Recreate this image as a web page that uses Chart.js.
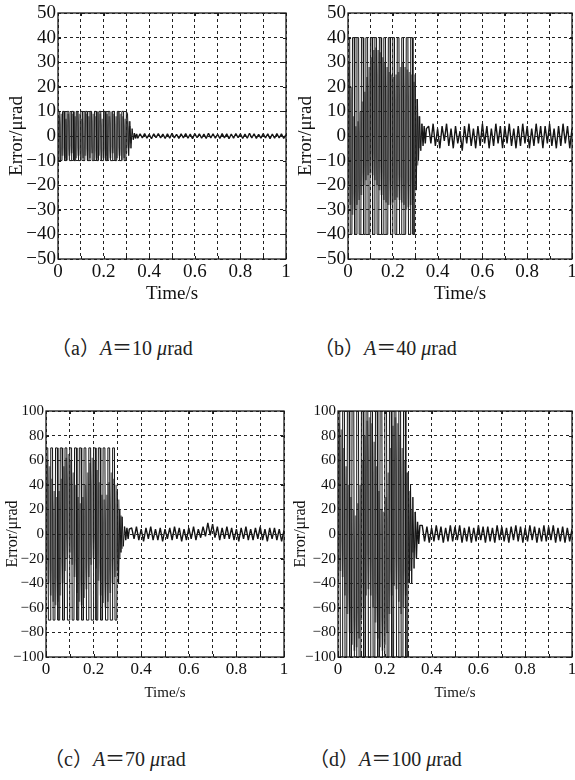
<!DOCTYPE html>
<html>
<head>
<meta charset="utf-8">
<script src="https://cdn.jsdelivr.net/npm/chart.js@4.4.0/dist/chart.umd.min.js"></script>
<style>
  html, body { margin: 0; padding: 0; background: #fff; }
  body { width: 575px; height: 780px; position: relative; overflow: hidden; }
  canvas { position: absolute; }
  .cap { position: absolute; font-family: "Liberation Serif", "Noto Sans CJK SC", serif; font-size: 20px; line-height: 24px; color: #222; white-space: nowrap; }
  .cap i { font-style: italic; }
</style>
</head>
<body>
<canvas id="chartA" width="290" height="310" style="left:0;top:0"></canvas>
<canvas id="chartB" width="285" height="310" style="left:290px;top:0"></canvas>
<canvas id="chartC" width="290" height="310" style="left:0;top:395px"></canvas>
<canvas id="chartD" width="285" height="310" style="left:290px;top:395px"></canvas>

<div class="cap" style="left:51px;top:336px">（a）<i>A</i>＝10 <i>μ</i>rad</div>
<div class="cap" style="left:314px;top:336px">（b）<i>A</i>＝40 <i>μ</i>rad</div>
<div class="cap" style="left:44px;top:747px">（c）<i>A</i>＝70 <i>μ</i>rad</div>
<div class="cap" style="left:309px;top:747px">（d）<i>A</i>＝100 <i>μ</i>rad</div>

<script>
// time samples (s) of the saturated black trace, 0 - 0.35
const tBlack = [0,0.0075,0.01,0.0175, 0.02,0.0275,0.03,0.0375, 0.04,0.0475,0.05,0.0575,
  0.06,0.0675,0.07,0.0775, 0.08,0.0875,0.09,0.0975, 0.1,0.1075,0.11,0.1175,
  0.12,0.1275,0.13,0.1375, 0.14,0.1475,0.15,0.1575, 0.16,0.1675,0.17,0.1775,
  0.18,0.1875,0.19,0.1975, 0.2,0.2075,0.21,0.2175, 0.22,0.2275,0.23,0.2375,
  0.24,0.2475,0.25,0.2575, 0.26,0.2675,0.27,0.2775, 0.28,0.2875,0.29,0.2975,
  0.3,0.305,0.31,0.315,0.32,0.325,0.33,0.335,0.34,0.345,0.35];
// time samples of the grey trace, 0 - 0.32
const tGray = [0,0.005,0.01,0.015,0.02,0.025,0.03,0.035,0.04,0.045,
  0.05,0.055,0.06,0.065,0.07,0.075,0.08,0.085,0.09,0.095,
  0.1,0.105,0.11,0.115,0.12,0.125,0.13,0.135,0.14,0.145,
  0.15,0.155,0.16,0.165,0.17,0.175,0.18,0.185,0.19,0.195,
  0.2,0.205,0.21,0.215,0.22,0.225,0.23,0.235,0.24,0.245,
  0.25,0.255,0.26,0.265,0.27,0.275,0.28,0.285,0.29,0.295,
  0.3,0.305,0.31,0.315,0.32];
// steady-state samples, 0.36 - 1
const tSlow = [0.36,0.37,0.38,0.39,0.4,0.41,0.42,0.43,0.44,0.45,
  0.46,0.47,0.48,0.49,0.5,0.51,0.52,0.53,0.54,0.55,
  0.56,0.57,0.58,0.59,0.6,0.61,0.62,0.63,0.64,0.65,
  0.66,0.67,0.68,0.69,0.7,0.71,0.72,0.73,0.74,0.75,
  0.76,0.77,0.78,0.79,0.8,0.81,0.82,0.83,0.84,0.85,
  0.86,0.87,0.88,0.89,0.9,0.91,0.92,0.93,0.94,0.95,
  0.96,0.97,0.98,0.99,1];

// (a) A = 10 urad
const aHead = [10,10,-10,-10, 10,10,-10,-10, 10,10,-10,-10, 10,10,-10,-10, 10,10,-10,-10,
  10,10,-10,-10, 10,10,-10,-10, 10,10,-10,-10, 10,10,-10,-10, 10,10,-10,-10,
  10,10,-10,-10, 10,10,-10,-10, 10,10,-10,-10, 10,10,-10,-10, 10,10,-10,-10,
  10,9,-8,6,-5,3,-1.5,1.2,-1,0.8,-0.9];
const aGray = [-9,8,-10,9,-8,10,-9,7,-10,9,-8,10,-7,9,-10,8,-9,10,-8,9,
  -10,7,-9,10,-8,9,-10,8,-9,10,-7,9,-10,8,-9,10,-8,9,-10,7,
  -9,10,-8,9,-10,8,-9,10,-7,9,-10,8,-9,10,-8,9,-10,8,-9,7,
  -7,6,-5,4,-3];
const aTail = [0.9,-0.8,1.0,-0.9,0.7,-1.1,0.9,-0.7,1.0,-0.8,
  0.8,-1.0,0.9,-0.9,1.1,-0.8,0.7,-1.0,0.9,-0.8,
  1.0,-0.9,0.8,-1.1,1.0,-0.7,0.9,-0.9,0.8,-1.0,
  1.1,-0.8,0.9,-0.9,0.7,-1.0,1.0,-0.8,0.9,-1.1,
  0.8,-0.9,1.0,-0.7,0.9,-1.0,0.8,-0.9,1.1,-0.8,
  0.9,-1.0,0.7,-0.9,1.0,-0.8,0.9,-1.1,0.8,-0.9,
  1.0,-0.8,0.9,-1.0,0.6];

// (b) A = 40 urad
const bHead = [40,40,-40,-40, 40,40,-40,-40, 40,40,-40,-40, 40,40,-40,-40, 40,40,-40,-40,
  40,40,-40,-40, 40,40,-40,-40, 40,40,-40,-40, 40,40,-40,-40, 40,40,-40,-40,
  40,40,-40,-40, 40,40,-40,-40, 40,40,-40,-40, 40,40,-40,-40, 40,40,-40,-40,
  25,-22,15,-10,8,-6,5,-4,4,-3,3];
const bGray = [-20,30,-28,20,-32,8,-30,4,-28,6,
  -26,10,-24,14,-20,18,-18,24,-16,28,
  -15,32,-16,35,-18,36,-20,35,-22,34,
  -24,32,-26,30,-27,28,-28,26,-28,25,
  -27,24,-26,25,-25,26,-26,28,-27,30,
  -28,28,-30,27,-29,26,-28,25,-26,22,
  -22,15,-12,8,-5];
const bTail = [4,-3,5,-4,3,-5,4,-2,5,-4,
  3,-5,4,-3,2,-6,4,-3,5,-4,
  3,-5,4,-4,5,-3,4,-5,3,-4,
  5,-3,4,-5,4,-3,5,-4,3,-5,
  4,-4,5,-3,4,-5,3,-4,5,-3,
  4,-5,4,-3,5,-4,3,-5,4,-4,
  5,-3,4,-5,3];

// (c) A = 70 urad
const cHead = [70,70,-70,-70, 70,70,-70,-70, 70,70,-70,-70, 70,70,-70,-70, 70,70,-70,-70,
  70,70,-70,-70, 70,70,-70,-70, 70,70,-70,-70, 70,70,-70,-70, 70,70,-70,-70,
  70,70,-70,-70, 70,70,-70,-70, 70,70,-70,-70, 70,70,-70,-70, 70,70,-70,-70,
  35,-40,20,-15,14,-10,6,-5,5,-4,4];
const cGray = [-30,60,-40,55,-50,45,-55,35,-58,30,
  -55,35,-50,45,-40,55,-30,62,-20,65,
  -15,60,-25,50,-35,40,-48,30,-55,25,
  -58,30,-52,40,-45,50,-35,58,-25,62,
  -20,60,-28,52,-38,42,-50,32,-56,28,
  -60,32,-55,42,-48,50,-40,45,-35,40,
  -30,28,-20,15,-12];
const cTail = [5,-4,6,-5,4,-6,5,-4,6,-5,
  4,-5,5,-6,4,-4,5,-5,6,-4,
  5,-6,4,-5,5,-4,6,-5,4,-3,
  6,-2,9,-1,8,-3,6,-5,5,-4,
  6,-4,5,-5,4,-6,5,-4,6,-5,
  4,-5,5,-4,6,-5,4,-6,5,-4,
  5,-5,4,-6,3];

// (d) A = 100 urad
const dHead = [100,100,-100,-100, 100,100,-100,-100, 100,100,-100,-100, 100,100,-100,-100, 100,100,-100,-100,
  100,100,-100,-100, 100,100,-100,-100, 100,100,-100,-100, 100,100,-100,-100, 100,100,-100,-100,
  100,100,-100,-100, 100,100,-100,-100, 100,100,-100,-100, 100,100,-100,-100, 100,100,-100,-100,
  50,-40,40,-40,30,-28,18,-20,10,-8,7];
const dGray = [-40,90,-30,85,-35,70,-50,55,-65,40,
  -80,30,-90,20,-95,15,-92,25,-85,40,
  -70,60,-60,80,-50,92,-45,95,-50,90,
  -60,75,-72,55,-85,35,-92,20,-95,18,
  -90,30,-80,50,-65,70,-50,88,-42,95,
  -45,90,-55,80,-65,70,-60,60,-50,50,
  -40,35,-30,20,-15];
const dTail = [7,-6,6,-7,5,-6,7,-5,6,-7,
  5,-6,7,-6,6,-5,7,-7,5,-6,
  6,-7,5,-6,7,-5,6,-7,6,-6,
  5,-7,7,-5,6,-6,5,-7,6,-5,
  7,-6,6,-7,5,-6,7,-5,6,-7,
  5,-6,7,-6,6,-5,7,-7,5,-6,
  6,-7,5,-6,4];

Chart.defaults.font.family = '"Liberation Serif", "Times New Roman", serif';
Chart.defaults.color = '#111';

function pts(ts, ys) {
  return ys.map((y, i) => ({ x: ts[i], y: y }));
}

// solid box round the plot + short inward ticks, like the matlab axes
const framePlugin = {
  id: 'frame',
  afterDraw(chart) {
    const { ctx, chartArea: a, scales } = chart;
    ctx.save();
    ctx.strokeStyle = '#1a1a1a';
    ctx.lineWidth = 1;
    ctx.beginPath();
    scales.x.ticks.forEach(t => {
      const px = Math.round(scales.x.getPixelForValue(t.value)) + 0.5;
      ctx.moveTo(px, a.bottom); ctx.lineTo(px, a.bottom - 3);
      ctx.moveTo(px, a.top); ctx.lineTo(px, a.top + 3);
    });
    scales.y.ticks.forEach(t => {
      const py = Math.round(scales.y.getPixelForValue(t.value)) + 0.5;
      ctx.moveTo(a.left, py); ctx.lineTo(a.left + 3, py);
      ctx.moveTo(a.right, py); ctx.lineTo(a.right - 3, py);
    });
    ctx.stroke();
    ctx.lineWidth = 1.3;
    ctx.strokeRect(a.left, a.top, a.right - a.left, a.bottom - a.top);
    ctx.restore();
  }
};

function makeChart(id, c) {
  const gridOpts = { color: '#222', lineWidth: 1, drawTicks: false, z: 1 };
  new Chart(document.getElementById(id), {
    type: 'line',
    data: {
      datasets: [
        {
          label: 'Error', data: pts(tBlack.concat(tSlow), c.head.concat(c.tail)),
          borderColor: '#141414', borderWidth: 1, borderJoinStyle: 'bevel',
          segment: { borderWidth: s => s.p0.parsed.x >= 0.33 ? 1.4 : 1 }
        },
        {
          label: 'Error2', data: pts(tGray, c.gray),
          borderColor: '#7f7f7f', borderWidth: 1.8, borderJoinStyle: 'bevel'
        }
      ]
    },
    options: {
      responsive: false,
      animation: false,
      parsing: false,
      elements: { point: { radius: 0 }, line: { tension: 0 } },
      layout: { padding: c.pad },
      plugins: { legend: { display: false }, tooltip: { enabled: false } },
      scales: {
        x: {
          type: 'linear', min: 0, max: 1,
          afterFit: s => { s.height = c.xH; s.paddingLeft = 0; s.paddingRight = 0; },
          grid: gridOpts,
          border: { display: false, dash: [3, 3] },
          ticks: {
            stepSize: 0.1, autoSkip: false, maxRotation: 0, padding: c.xTickPad,
            font: { size: c.xTick },
            callback: v => { const k = Math.round(v * 10); return k % 2 ? '' : String(k / 10); }
          },
          title: { display: true, text: 'Time/s', font: { size: c.xTitle }, padding: { top: 0, bottom: c.xTitlePad } }
        },
        y: {
          min: c.yMin, max: c.yMax,
          afterFit: s => { s.width = c.yW; s.paddingTop = 0; s.paddingBottom = 0; },
          grid: gridOpts,
          border: { display: false, dash: [3, 3] },
          ticks: {
            stepSize: c.yStep, autoSkip: false, padding: 2,
            font: { size: c.yTick },
            callback: v => v < 0 ? '\u2212' + Math.abs(v) : String(v)
          },
          title: { display: true, text: 'Error/\u03bcrad', font: { size: c.yTitle }, padding: { top: c.yTitlePad, bottom: 0 } }
        }
      }
    },
    plugins: [framePlugin]
  });
}

makeChart('chartA', { head: aHead, tail: aTail, gray: aGray, yMin: -50, yMax: 50, yStep: 10,
  pad: { top: 13, right: 4, bottom: 0, left: 0 }, yW: 58, xH: 51,
  xTick: 19, yTick: 19, xTitle: 19, yTitle: 19, xTickPad: 2, xTitlePad: 5, yTitlePad: 6 });
makeChart('chartB', { head: bHead, tail: bTail, gray: bGray, yMin: -50, yMax: 50, yStep: 10,
  pad: { top: 13, right: 3, bottom: 0, left: 0 }, yW: 58, xH: 51,
  xTick: 19, yTick: 19, xTitle: 19, yTitle: 19, xTickPad: 2, xTitlePad: 5, yTitlePad: 5 });
makeChart('chartC', { head: cHead, tail: cTail, gray: cGray, yMin: -100, yMax: 100, yStep: 20,
  pad: { top: 16, right: 6, bottom: 0, left: 0 }, yW: 46, xH: 48,
  xTick: 17, yTick: 15, xTitle: 15, yTitle: 16, xTickPad: 2, xTitlePad: 3, yTitlePad: 3 });
makeChart('chartD', { head: dHead, tail: dTail, gray: dGray, yMin: -100, yMax: 100, yStep: 20,
  pad: { top: 16, right: 3, bottom: 0, left: 0 }, yW: 48, xH: 48,
  xTick: 17, yTick: 15, xTitle: 15, yTitle: 16, xTickPad: 2, xTitlePad: 3, yTitlePad: 1 });
</script>
</body>
</html>
